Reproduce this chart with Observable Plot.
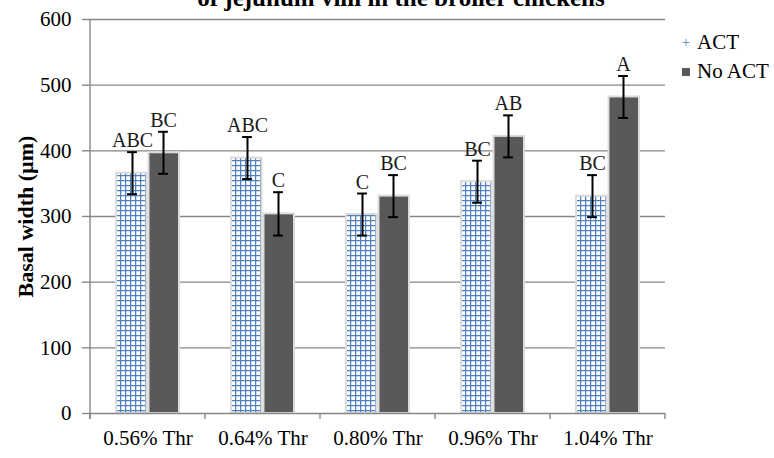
<!DOCTYPE html>
<html>
<head>
<meta charset="utf-8">
<script src="https://cdn.jsdelivr.net/npm/d3@7"></script>
<script src="https://cdn.jsdelivr.net/npm/@observablehq/plot@0.6"></script>
<style>
  html, body { margin: 0; padding: 0; background: #fff; }
  #wrap { position: relative; width: 774px; height: 458px; overflow: hidden; font-family: "Liberation Serif", "Times New Roman", serif; }
  #title { position: absolute; left: 0; width: 774px; top: -15px; text-align: center; font-weight: bold; font-size: 25px; line-height: 25px; padding-left: 28px; box-sizing: border-box; white-space: nowrap; }
  #legend { position: absolute; left: 680px; top: 28px; font-size: 21px; line-height: 29px; color: #000; }
  #legend .row { display: flex; align-items: center; }
  #legend .plus { color: #4f81bd; font-size: 15px; width: 12px; text-align: center; margin-right: 5px; }
  #legend .sq { display: inline-block; width: 8px; height: 8px; background: #595959; margin: 0 7px 0 2px; }
  svg { position: absolute; left: 0; top: 0; }
</style>
</head>
<body>
<div id="wrap">
  <div id="title">of jejunum villi in the broiler chickens</div>
  <div id="legend"></div>
</div>
<script>
const categories = ["0.56% Thr", "0.64% Thr", "0.80% Thr", "0.96% Thr", "1.04% Thr"];
const seriesNames = ["ACT", "No ACT"];
const actValues = [366, 389, 303, 353, 331];
const actErrors = [32, 32, 32, 32, 32];
const actLetters = ["ABC", "ABC", "C", "BC", "BC"];
const noActValues = [397, 304, 331, 422, 482];
const noActErrors = [32, 33, 32, 32, 32];
const noActLetters = ["BC", "C", "BC", "AB", "A"];
const yTicks = [0, 100, 200, 300, 400, 500, 600];
const yLabel = "Basal width (µm)";

const act = categories.map((c, i) => ({cat: c, value: actValues[i], err: actErrors[i], letter: actLetters[i]}));
const noAct = categories.map((c, i) => ({cat: c, value: noActValues[i], err: noActErrors[i], letter: noActLetters[i]}));

const gridColor = "#868686";
const barInset = {near: 26, far: 58.5};
const capInset = 52.6;

function seriesMarks(data, fill, insetLeft, insetRight, dx) {
  return [
    Plot.barY(data, {x: "cat", y: "value", fill, stroke: "#dcdcdc", strokeWidth: 2, insetLeft, insetRight}),
    Plot.ruleX(data, {x: "cat", y1: d => d.value - d.err, y2: d => d.value + d.err, dx, stroke: "#000", strokeWidth: 2}),
    Plot.tickY(data, {x: "cat", y: d => d.value + d.err, dx, stroke: "#000", strokeWidth: 2, insetLeft: capInset, insetRight: capInset}),
    Plot.tickY(data, {x: "cat", y: d => d.value - d.err, dx, stroke: "#000", strokeWidth: 2, insetLeft: capInset, insetRight: capInset}),
    Plot.text(data, {x: "cat", y: d => d.value + d.err, text: "letter", dx, dy: -5, lineAnchor: "bottom", fontSize: 20, fill: "#1a1a1a"})
  ];
}

function axisFrame(index, scales, values, dimensions) {
  const x = scales.x, y = scales.y;
  const g = d3.create("svg:g").attr("stroke", gridColor).attr("stroke-width", 1.4);
  const x0 = x(categories[0]);
  g.append("line").attr("x1", x0).attr("x2", x0).attr("y1", y(yTicks[0]) + 6).attr("y2", y(yTicks[yTicks.length - 1]));
  const edges = categories.map(c => x(c)).concat([x(categories[categories.length - 1]) + x.bandwidth()]);
  for (const e of edges) {
    g.append("line").attr("x1", e).attr("x2", e).attr("y1", y(0)).attr("y2", y(0) + 6);
  }
  return g.node();
}

const plot = Plot.plot({
  width: 774,
  height: 458,
  marginLeft: 89,
  marginRight: 109,
  marginTop: 19,
  marginBottom: 45,
  style: {fontFamily: "Liberation Serif, Times New Roman, serif", background: "transparent", color: "#000"},
  x: {domain: categories, padding: 0, label: null},
  y: {domain: [0, 600], label: null},
  marks: [
    Plot.ruleY(yTicks.slice(1), {stroke: gridColor, strokeWidth: 1.4}),
    ...seriesMarks(act, "url(#gridpat)", barInset.near, barInset.far, -15.5),
    ...seriesMarks(noAct, "#595959", barInset.far, barInset.near, 15.5),
    Plot.ruleY([0], {stroke: gridColor, strokeWidth: 1.4}),
    axisFrame,
    Plot.axisY({ticks: yTicks, tickSize: 7, tickPadding: 11, fontSize: 21, stroke: gridColor, strokeWidth: 1.4, label: null}),
    Plot.axisX({tickSize: 0, tickPadding: 17, fontSize: 21, label: null}),
    Plot.text([yLabel], {frameAnchor: "left", rotate: -90, textAnchor: "middle", dx: -64, fontSize: 22, fontWeight: "bold", fill: "#000"})
  ]
});

const ns = "http://www.w3.org/2000/svg";
const defs = document.createElementNS(ns, "defs");
defs.innerHTML = '<pattern id="gridpat" patternUnits="userSpaceOnUse" width="5" height="5"><rect width="5" height="5" fill="#fff"/><path d="M0.6 0V5M0 0.6H5" stroke="#4f81bd" stroke-width="1.3"/></pattern>';
plot.insertBefore(defs, plot.firstChild);

document.getElementById("wrap").appendChild(plot);

const legend = document.getElementById("legend");
legend.innerHTML =
  '<div class="row"><span class="plus">+</span><span>' + seriesNames[0] + '</span></div>' +
  '<div class="row"><span class="sq"></span><span>' + seriesNames[1] + '</span></div>';
</script>
</body>
</html>
